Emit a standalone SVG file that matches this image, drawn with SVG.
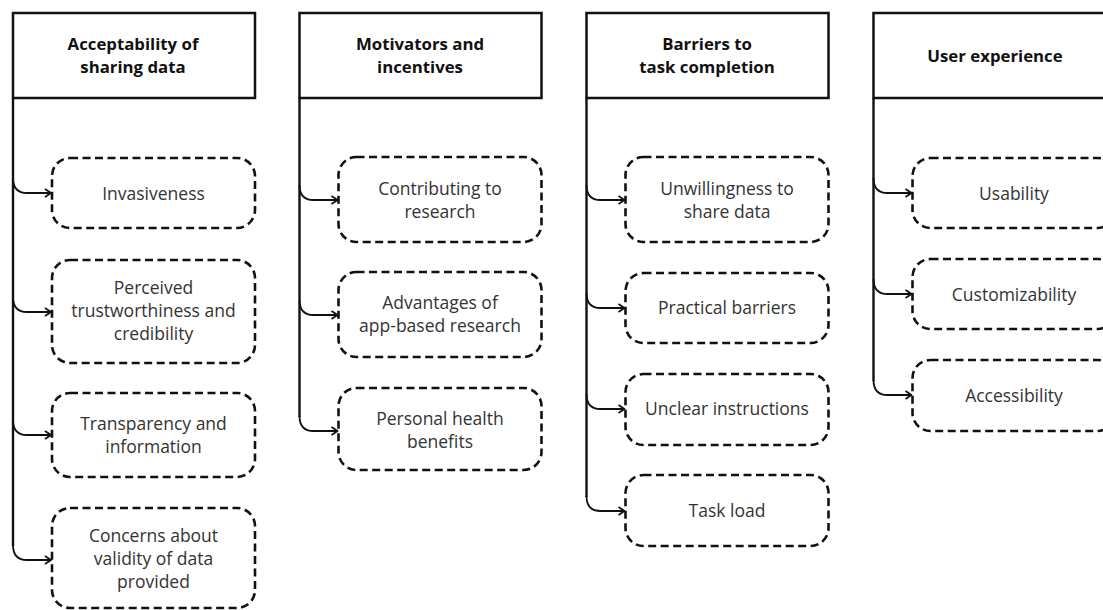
<svg xmlns="http://www.w3.org/2000/svg" width="1103" height="610" viewBox="0 0 1103 610">
<style>
.hdr{fill:#fff;stroke:#111;stroke-width:2.5}
.box{fill:#fff;stroke:#111;stroke-width:2.6;stroke-dasharray:8 4.5}
.ht{font-family:"Open Sans","Liberation Sans",sans-serif;font-weight:700;font-size:16.8px;fill:#111;text-anchor:middle}
.bt{font-family:"Open Sans","Liberation Sans",sans-serif;font-size:17.5px;fill:#333;text-anchor:middle}
.trunk{fill:none;stroke:#111;stroke-width:2.4}
.br{fill:none;stroke:#111;stroke-width:1.8;marker-end:url(#ah)}
</style>
<defs>
<marker id="ah" markerUnits="userSpaceOnUse" markerWidth="12" markerHeight="12" refX="9" refY="6" orient="auto">
<path d="M3,2 L9,6 L3,10" fill="none" stroke="#111" stroke-width="1.8" stroke-linejoin="miter"/>
</marker>
</defs>

<g id="connectors">
<path class="trunk" d="M13,98 V546"/>
<path class="br" d="M13,178 C13,188 17,193 27,193 L51,193"/>
<path class="br" d="M13,297 C13,307 17,312 27,312 L51,312"/>
<path class="br" d="M13,420 C13,430 17,435 27,435 L51,435"/>
<path class="br" d="M13,545 C13,555 17,560 27,560 L51,560"/>

<path class="trunk" d="M299.5,98 V417"/>
<path class="br" d="M299.5,185 C299.5,195 303.5,200 313.5,200 L337.5,200"/>
<path class="br" d="M299.5,300 C299.5,310 303.5,315 313.5,315 L337.5,315"/>
<path class="br" d="M299.5,416 C299.5,426 303.5,431 313.5,431 L337.5,431"/>

<path class="trunk" d="M586.5,98 V497"/>
<path class="br" d="M586.5,185 C586.5,195 590.5,200 600.5,200 L624.5,200"/>
<path class="br" d="M586.5,293 C586.5,303 590.5,308 600.5,308 L624.5,308"/>
<path class="br" d="M586.5,394 C586.5,404 590.5,409 600.5,409 L624.5,409"/>
<path class="br" d="M586.5,496 C586.5,506 590.5,511 600.5,511 L624.5,511"/>

<path class="trunk" d="M873.5,98 V381"/>
<path class="br" d="M873.5,178 C873.5,188 877.5,193 887.5,193 L911.5,193"/>
<path class="br" d="M873.5,279 C873.5,289 877.5,294 887.5,294 L911.5,294"/>
<path class="br" d="M873.5,380 C873.5,390 877.5,395 887.5,395 L911.5,395"/>
</g>

<g id="h1"><rect class="hdr" x="13" y="13" width="242" height="85"/>
<text class="ht" x="133" y="50">Acceptability of</text><text class="ht" x="133" y="73">sharing data</text></g>
<g id="h2"><rect class="hdr" x="299.5" y="13" width="242" height="85"/>
<text class="ht" x="420" y="50">Motivators and</text><text class="ht" x="420" y="73">incentives</text></g>
<g id="h3"><rect class="hdr" x="586.5" y="13" width="242" height="85"/>
<text class="ht" x="707" y="50">Barriers to</text><text class="ht" x="707" y="73">task completion</text></g>
<g id="h4"><rect class="hdr" x="873.5" y="13" width="242" height="85"/>
<text class="ht" x="995" y="62">User experience</text></g>

<g id="n1a"><rect class="box" x="52" y="158" width="203" height="70" rx="18"/>
<text class="bt" x="153.5" y="200">Invasiveness</text></g>
<g id="n1b"><rect class="box" x="52" y="260" width="203" height="103" rx="18"/>
<text class="bt" x="153.5" y="294">Perceived</text><text class="bt" x="153.5" y="317">trustworthiness and</text><text class="bt" x="153.5" y="340">credibility</text></g>
<g id="n1c"><rect class="box" x="52" y="393" width="203" height="84" rx="18"/>
<text class="bt" x="153.5" y="430">Transparency and</text><text class="bt" x="153.5" y="453">information</text></g>
<g id="n1d"><rect class="box" x="52" y="508" width="203" height="100" rx="18"/>
<text class="bt" x="153.5" y="542">Concerns about</text><text class="bt" x="153.5" y="565">validity of data</text><text class="bt" x="153.5" y="588">provided</text></g>

<g id="n2a"><rect class="box" x="338.5" y="157" width="203" height="85" rx="18"/>
<text class="bt" x="440" y="195">Contributing to</text><text class="bt" x="440" y="218">research</text></g>
<g id="n2b"><rect class="box" x="338.5" y="272" width="203" height="85" rx="18"/>
<text class="bt" x="440" y="309">Advantages of</text><text class="bt" x="440" y="332">app-based research</text></g>
<g id="n2c"><rect class="box" x="338.5" y="388" width="203" height="82" rx="18"/>
<text class="bt" x="440" y="425">Personal health</text><text class="bt" x="440" y="448">benefits</text></g>

<g id="n3a"><rect class="box" x="625.5" y="157" width="203" height="85" rx="18"/>
<text class="bt" x="727" y="195">Unwillingness to</text><text class="bt" x="727" y="218">share data</text></g>
<g id="n3b"><rect class="box" x="625.5" y="273" width="203" height="70" rx="18"/>
<text class="bt" x="727" y="314">Practical barriers</text></g>
<g id="n3c"><rect class="box" x="625.5" y="374" width="203" height="71" rx="18"/>
<text class="bt" x="727" y="415">Unclear instructions</text></g>
<g id="n3d"><rect class="box" x="625.5" y="475" width="203" height="71" rx="18"/>
<text class="bt" x="727" y="517">Task load</text></g>

<g id="n4a"><rect class="box" x="912.5" y="158" width="203" height="70" rx="18"/>
<text class="bt" x="1014" y="200">Usability</text></g>
<g id="n4b"><rect class="box" x="912.5" y="259" width="203" height="70" rx="18"/>
<text class="bt" x="1014" y="301">Customizability</text></g>
<g id="n4c"><rect class="box" x="912.5" y="360" width="203" height="71" rx="18"/>
<text class="bt" x="1014" y="402">Accessibility</text></g>
</svg>
